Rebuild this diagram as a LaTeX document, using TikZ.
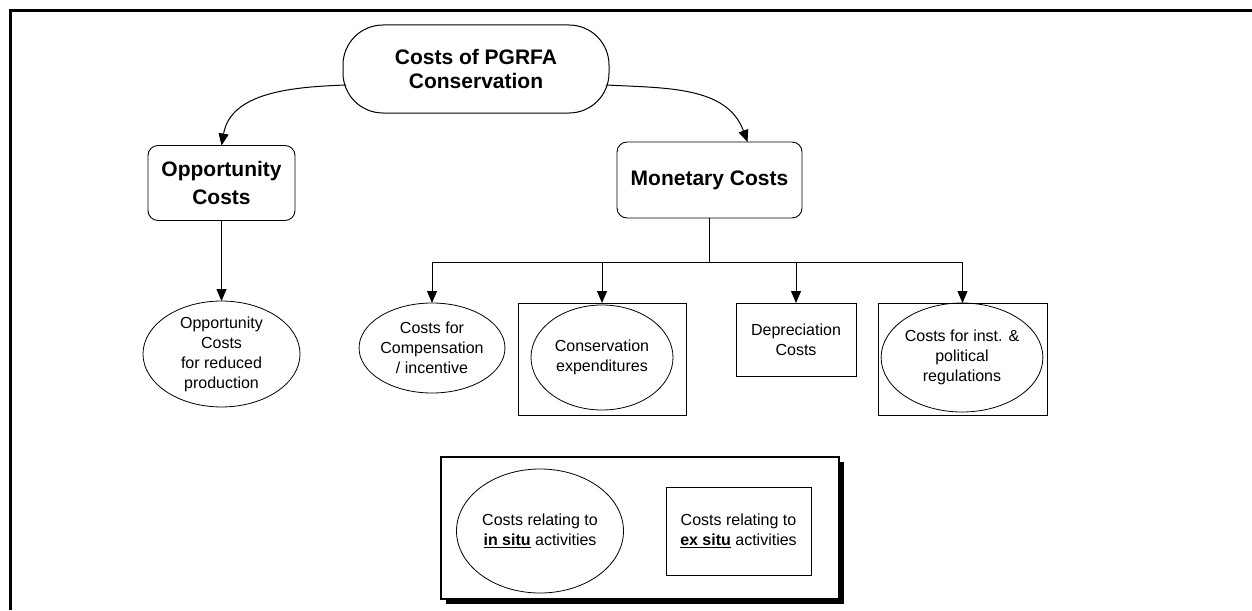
\documentclass[tikz,border=0pt]{standalone}
\usepackage{fontspec}
\setmainfont{Liberation Sans}
\newcommand{\thickul}[1]{\setbox0\hbox{#1}\rlap{\rule[-3pt]{\wd0}{1.6pt}}\box0\relax}
\usetikzlibrary{arrows.meta,shapes.geometric,shadows}
\begin{document}
\begin{tikzpicture}[x=1pt,y=-1pt,
  every node/.style={inner sep=0pt,outer sep=0pt},
  txt/.style={font=\fontsize{16}{20}\selectfont,align=center},
  boldtxt/.style={font=\fontsize{21}{28}\selectfont\bfseries,align=center},
  rbox/.style={draw,line width=0.9pt,rounded corners=10pt,boldtxt},
  plainbox/.style={draw,line width=0.8pt,rectangle,txt},
  oval/.style={draw,line width=0.8pt,ellipse,txt},
  arr/.style={line width=1pt,-{Triangle[width=10pt,length=12pt]}},
  conn/.style={line width=1pt}]
\useasboundingbox (0,0) rectangle (1252,610);
% outer frame (cropped)
\draw[line width=3pt] (1252,11) -- (10,11) -- (10,610);

% top node
\node[draw,line width=1pt,rounded corners=40pt,minimum width=266pt,minimum height=88pt,
  font=\fontsize{21}{24}\selectfont\bfseries,align=center] (top) at (476,69)
  {Costs of PGRFA\\Conservation};

% level 2
\node[rbox,minimum width=147pt,minimum height=75pt] (opp) at (221.5,183) {Opportunity\\Costs};
\node[rbox,minimum width=185pt,minimum height=76pt] (mon) at (709.5,180) {Monetary Costs};

\draw[arr] ([xshift=3pt,yshift=-16pt]top.west) to[out=182,in=80] (opp.north);
\draw[arr] ([xshift=-3pt,yshift=-16pt]top.east) to[out=-3,in=110] ([xshift=38pt]mon.north);

% opportunity costs leaf
\node[oval,minimum width=157pt,minimum height=104pt] (oppe) at (221.5,354)
  {Opportunity\\Costs\\for reduced\\production};
\draw[arr] (opp.south) -- (oppe.north);

% monetary leaves
\node[oval,minimum width=136pt,minimum height=90pt] (comp) at (432,348)
  {Costs for\\Compensation\\/ incentive};
\node[plainbox,minimum width=168pt,minimum height=112pt] (cons) at (602,359) {};
\node[oval,minimum width=142pt,minimum height=105pt] (conse) at (602,357.5)
  {Conservation\\expenditures};
\node[plainbox,minimum width=120pt,minimum height=73pt] (dep) at (796,339.5)
  {Depreciation\\Costs};
\node[plainbox,minimum width=169pt,minimum height=112pt] (inst) at (962.5,359) {};
\node[oval,minimum width=140pt,minimum height=109pt] (inste) at (962,357.5)
  {Costs for inst. \&\\political\\regulations};

\draw[conn] (mon.south) -- ++(0,44) coordinate (hub);
\draw[arr] (hub) -| (comp.north);
\draw[arr] (hub) -| (cons.north);
\draw[arr] (hub) -| (dep.north);
\draw[arr] (hub) -| (inst.north);

% legend
\node[draw,line width=2pt,fill=white,minimum width=398pt,minimum height=142pt,
  drop shadow={shadow xshift=5pt,shadow yshift=-5pt,opacity=1,fill=black}] (legend) at (640,528) {};
\node[oval,minimum width=167pt,minimum height=124pt] (insitu) at (540,531)
  {Costs relating to\\\thickul{\textbf{in situ}} activities};
\node[plainbox,minimum width=145pt,minimum height=88pt] (exsitu) at (738.5,531)
  {Costs relating to\\\thickul{\textbf{ex situ}} activities};
\end{tikzpicture}
\end{document}
